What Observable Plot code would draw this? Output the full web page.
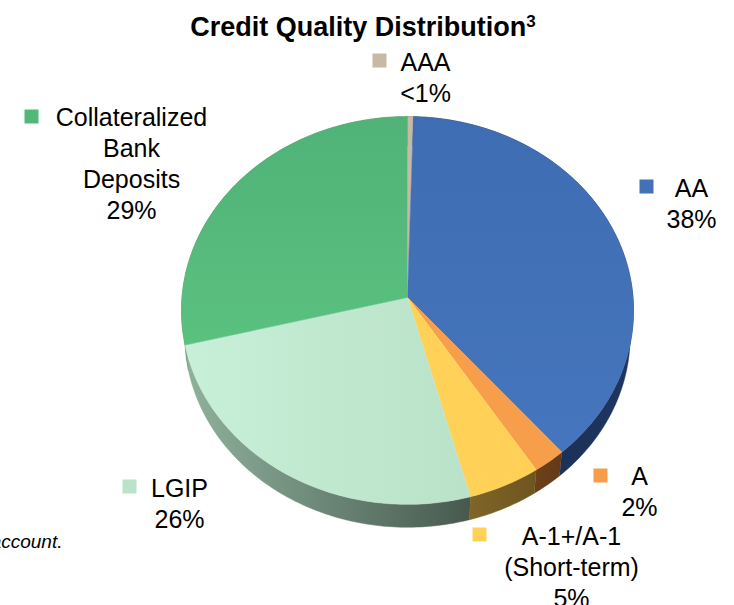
<!DOCTYPE html>
<html>
<head>
<meta charset="utf-8">
<script src="https://cdn.jsdelivr.net/npm/d3@7"></script>
<script src="https://cdn.jsdelivr.net/npm/@observablehq/plot@0.6"></script>
<style>
  html, body { margin: 0; padding: 0; background: #fff; overflow: hidden; width: 734px; height: 605px; }
  h2 { margin: 0; height: 44px; line-height: 54px; text-align: center; width: 726px;
       font: bold 27px/54px "Liberation Sans", Arial, sans-serif; color: #000; white-space: nowrap; }
  h2 sup { font-size: 17px; line-height: 0; vertical-align: 9px; }
  svg { display: block; }
</style>
</head>
<body>
<h2>Credit Quality Distribution<sup>3</sup></h2>
<div id="chart"></div>
<script>
// Data, clockwise from twelve o'clock
const sliceNames  = ["AAA", "AA", "A", "A-1+/A-1\n(Short-term)", "LGIP", "Collateralized\nBank\nDeposits"];
const sliceShares = [0.45, 38.3, 2.2, 4.85, 25.3, 28.9];
const sliceLabels = ["<1%", "38%", "2%", "5%", "26%", "29%"];

// Styles
const swatchColors = ["#C8B9A5", "#4271B6", "#F79C4A", "#FFD257", "#B9E4C9", "#50B878"];
const topStops  = [["#C6B9A5","#C6B9A5"], ["#3F6DB3","#4575BC"], ["#F79E4A","#F79E4A"], ["#FFD257","#FFD055"], ["#C8EFD7","#B9E2C8"], ["#50B277","#5AC17F"]];
const sideStops = [["#6a6050","#6a6050"], ["#152744","#1F3661"], ["#6E4116","#63391A"], ["#7F6526","#6E5520"], ["#8FB29C","#47594F"], ["#5b8a6c","#5b8a6c"]];

// Layout, in page pixels: label block centres and swatch centres
const labelX  = [425, 691, 639, 571, 179, 131];
const labelY  = [76.5, 202.5, 490.5, 565.5, 502, 162];
const swatchX = [379, 646, 600, 479, 129, 31];
const swatchY = [60, 186, 475, 534, 486, 116];

// Perspective view of the pie disc
const apex = {x: 407, y: 297}, rimA = 225.5, rimB = 193, tilt = 0.067, depth = 26, shrink = 0.985;
const rim = deg => {
  const t = deg * Math.PI / 180, d = 1 + tilt * Math.cos(t);
  return [apex.x + rimA * Math.sin(t) / d, apex.y - rimB * Math.cos(t) / d];
};
const rimLow = deg => {
  const [x, y] = rim(deg);
  return [apex.x + shrink * (x - apex.x), apex.y + depth + shrink * (y - apex.y)];
};

const total = d3.sum(sliceShares);
const arcs = [];
sliceShares.reduce((start, v, i) => {
  const end = start + v;
  arcs.push({i, from: start / total * 360, to: end / total * 360});
  return end;
}, 0);
const sweep = a => d3.range(0, 1.0001, 1 / Math.max(2, Math.ceil(a.to - a.from))).map(f => a.from + f * (a.to - a.from));

const topPoints = arcs.flatMap(a => [[apex.x, apex.y], ...sweep(a).map(rim)]
  .map(([x, y]) => ({x, y, s: a.i, paint: `url(#top${a.i})`})));
const sidePoints = arcs.flatMap(a => {
  const degs = sweep(a);
  return [...degs.map(rim), ...degs.slice().reverse().map(rimLow)]
    .map(([x, y]) => ({x, y, s: a.i, paint: `url(#side${a.i})`}));
});

const gradient = (id, [a, b], vertical) =>
  `<linearGradient id="${id}" x1="0" y1="0" x2="${vertical ? 0 : 1}" y2="${vertical ? 1 : 0}">
     <stop offset="0" stop-color="${a}"/><stop offset="1" stop-color="${b}"/></linearGradient>`;
const defs = () => {
  const g = d3.create("svg:defs");
  g.html(topStops.map((s, i) => gradient(`top${i}`, s, i === 5 || i === 1)).join("") +
         sideStops.map((s, i) => gradient(`side${i}`, s, false)).join(""));
  return g.node();
};

const labels = sliceNames.map((n, i) => ({
  text: `${n}\n${sliceLabels[i]}`, x: labelX[i], y: labelY[i], sx: swatchX[i], sy: swatchY[i], c: swatchColors[i]
}));

const plot = Plot.plot({
  width: 734, height: 561,
  margin: 0,
  style: {fontFamily: '"Liberation Sans", Arial, sans-serif', background: "#fff", color: "#000"},
  x: {domain: [0, 734], range: [0, 734], axis: null},
  y: {domain: [44, 605], range: [0, 561], axis: null},
  color: {type: "identity"},
  marks: [
    defs,
    Plot.line(sidePoints, {x: "x", y: "y", z: "s", fill: "paint", stroke: "paint", strokeWidth: 0.5, curve: "linear"}),
    Plot.line(topPoints, {x: "x", y: "y", z: "s", fill: "paint", stroke: "paint", strokeWidth: 0.5, curve: "linear"}),
    Plot.dot(labels, {x: "sx", y: "sy", fill: "c", symbol: "square", r: 7.9, stroke: null}),
    Plot.text(labels, {x: "x", y: "y", text: "text", fontSize: 25, lineHeight: 1.235, fill: "#000", lineAnchor: "middle", textAnchor: "middle"}),
    Plot.text(["account."], {x: () => 62, y: () => 541, text: d => d, fontSize: 19, fontStyle: "italic", textAnchor: "end", fill: "#000"})
  ]
});
document.getElementById("chart").appendChild(plot);
</script>
</body>
</html>
